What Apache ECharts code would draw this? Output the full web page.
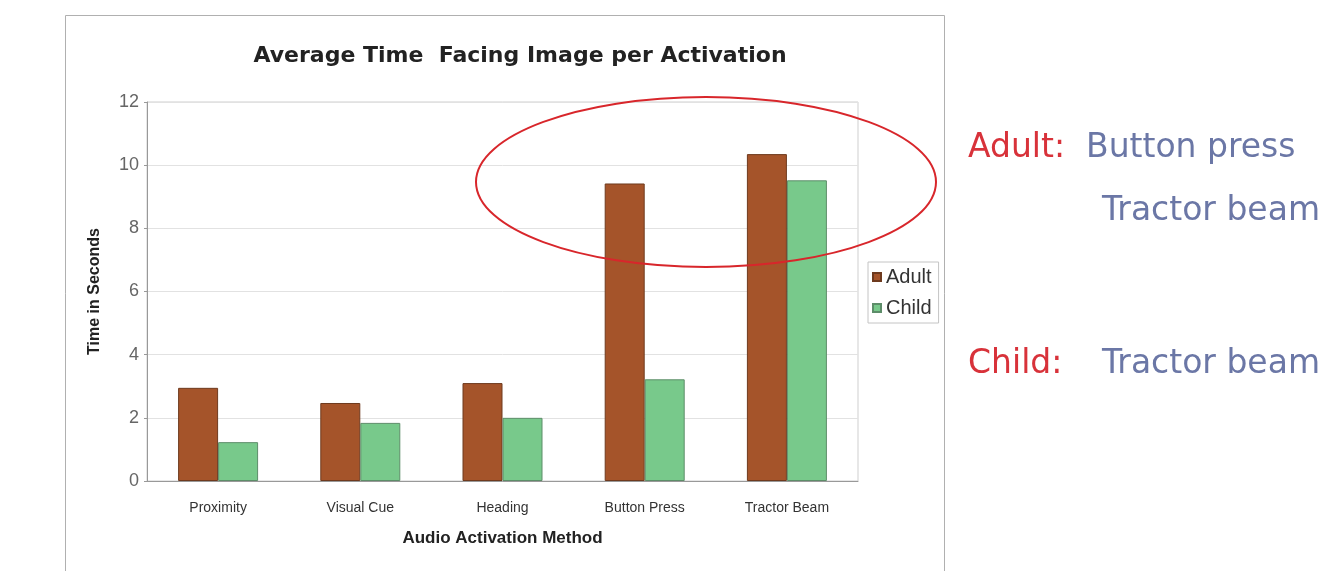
<!DOCTYPE html>
<html><head><meta charset="utf-8">
<script src="https://cdn.jsdelivr.net/npm/echarts@6/dist/echarts.min.js"></script>
<style>html,body{margin:0;padding:0;background:#fff}#c{width:1321px;height:571px}</style>
</head><body><div id="c"></div>
<script>
const categories = ['Proximity', 'Visual Cue', 'Heading', 'Button Press', 'Tractor Beam'];
const adultValues = [2.95, 2.47, 3.1, 9.42, 10.35];
const childValues = [1.23, 1.84, 2.0, 3.22, 9.52];
const yTicks = [0, 2, 4, 6, 8, 10, 12];

const chart = echarts.init(document.getElementById('c'));
const ff = 'Liberation Sans, Arial, sans-serif';
const side = '33px "DejaVu Sans", sans-serif';
chart.setOption({
  animation: false,
  backgroundColor: '#fff',
  title: {
    text: 'Average Time  Facing Image per Activation',
    left: 515, top: 40, textAlign: 'center',
    textStyle: {fontFamily: '"DejaVu Sans", sans-serif', fontSize: 22, fontWeight: 'bold', color: '#222'}
  },
  grid: {left: 147, right: 463, top: 102, bottom: 90, containLabel: false,
    show: true, borderColor: '#cfcfcf', borderWidth: 1, backgroundColor: 'transparent'},
  legend: {
    orient: 'vertical', left: 868, top: 262,
    itemWidth: 8, itemHeight: 8, itemGap: 11,
    padding: [5, 7, 5, 4],
    borderColor: '#c4c4c4', borderWidth: 1,
    textStyle: {fontFamily: ff, fontSize: 20, color: '#333', padding: [0, 0, 0, 0]},
    data: [{name: 'Adult', icon: 'rect'}, {name: 'Child', icon: 'rect'}]
  },
  xAxis: {
    type: 'category', data: categories,
    name: 'Audio Activation Method', nameLocation: 'middle', nameGap: 49,
    nameTextStyle: {fontFamily: ff, fontSize: 17, fontWeight: 'bold', color: '#222'},
    axisLine: {lineStyle: {color: '#999'}},
    axisTick: {show: false},
    axisLabel: {fontFamily: ff, fontSize: 14, color: '#333', margin: 20}
  },
  yAxis: {
    type: 'value', min: 0, max: 12, interval: 2,
    name: 'Time in Seconds', nameLocation: 'middle', nameGap: 44,
    nameTextStyle: {fontFamily: ff, fontSize: 16, fontWeight: 'bold', color: '#222'},
    axisLine: {show: true, lineStyle: {color: '#999'}},
    axisTick: {show: true, length: 3, lineStyle: {color: '#999'}},
    axisLabel: {fontFamily: ff, fontSize: 18, color: '#666', margin: 8,
      formatter: v => yTicks.includes(v) ? String(v) : ''},
    splitLine: {lineStyle: {color: '#e2e2e2'}}
  },
  series: [
    {name: 'Adult', type: 'bar', data: adultValues, barWidth: 40, barGap: '0%',
     itemStyle: {color: '#a5542a', borderColor: '#6e3a1e', borderWidth: 1}},
    {name: 'Child', type: 'bar', data: childValues, barWidth: 40,
     itemStyle: {color: '#78c98b', borderColor: '#5d8d69', borderWidth: 1}}
  ],
  graphic: [
    {type: 'rect', shape: {x: 65.5, y: 15.5, width: 879, height: 600}, z: -10,
     style: {fill: 'none', stroke: '#b0b0b0', lineWidth: 1}},
    {type: 'ellipse', shape: {cx: 706, cy: 182, rx: 230, ry: 85}, z: 100,
     style: {fill: 'none', stroke: '#d8262b', lineWidth: 2}},
    {type: 'text', x: 968, y: 148, z: 100,
     style: {text: 'Adult:', fill: '#d8323a', font: side, verticalAlign: 'middle'}},
    {type: 'text', x: 1086, y: 148, z: 100,
     style: {text: 'Button press', fill: '#6b77a6', font: side, verticalAlign: 'middle'}},
    {type: 'text', x: 1102, y: 211, z: 100,
     style: {text: 'Tractor beam', fill: '#6b77a6', font: side, verticalAlign: 'middle'}},
    {type: 'text', x: 968, y: 364, z: 100,
     style: {text: 'Child:', fill: '#d8323a', font: side, verticalAlign: 'middle'}},
    {type: 'text', x: 1102, y: 364, z: 100,
     style: {text: 'Tractor beam', fill: '#6b77a6', font: side, verticalAlign: 'middle'}}
  ]
});
</script></body></html>
